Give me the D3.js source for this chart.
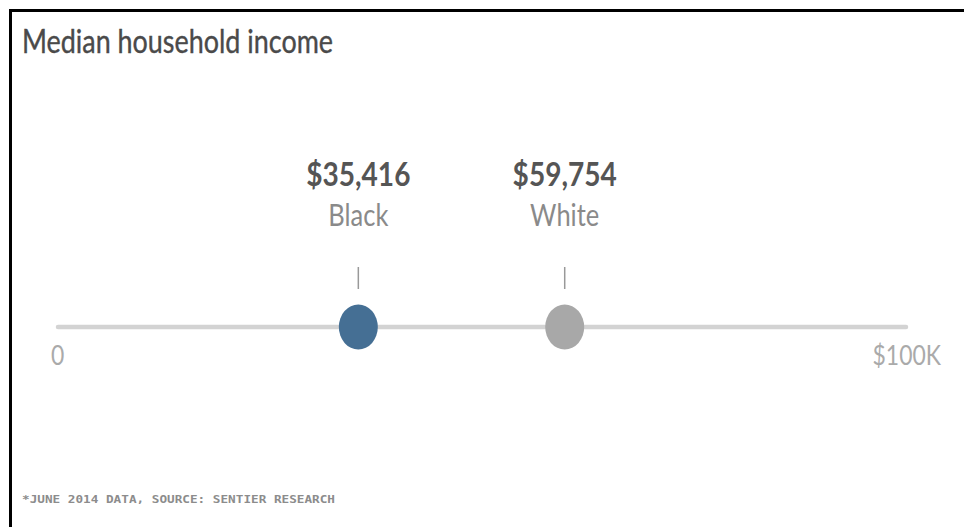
<!DOCTYPE html>
<html>
<head>
<meta charset="utf-8">
<script src="https://cdn.jsdelivr.net/npm/d3@7"></script>
<style>
  html, body { margin: 0; padding: 0; background: #fff; }
  svg { display: block; }
</style>
</head>
<body>
<svg id="chart" width="964" height="527"></svg>
<script>
// Median household income by race (June 2014)
const groups = ["Black", "White"];
const incomes = [35416, 59754];
const dotColors = ["#456f94", "#a8a8a8"];
const axisDomain = [0, 100000];
const axisLabels = ["0", "$100K"];

const width = 964, height = 527;
const svg = d3.select("#chart");

// Narrow the Lato glyphs a little so the type sits tight
function condense(sel, squeeze = 0.85) {
  sel.each(function () {
    const w = this.getComputedTextLength();
    d3.select(this).attr("textLength", w * squeeze).attr("lengthAdjust", "spacingAndGlyphs");
  });
  return sel;
}

// Frame
svg.append("line").attr("x1", 10.5).attr("x2", 10.5).attr("y1", 9).attr("y2", height)
  .attr("stroke", "#000").attr("stroke-width", 3);
svg.append("line").attr("x1", 9).attr("x2", width).attr("y1", 10.5).attr("y2", 10.5)
  .attr("stroke", "#000").attr("stroke-width", 3);

// Title
svg.append("text").attr("x", 22).attr("y", 53)
  .attr("font-family", "Lato").attr("font-size", 33).attr("fill", "#4a4a4a")
  .attr("stroke", "#4a4a4a").attr("stroke-width", 0.4)
  .attr("textLength", 311).attr("lengthAdjust", "spacingAndGlyphs")
  .text("Median household income");

const x = d3.scaleLinear().domain(axisDomain).range([58, 906]);
const axisY = 327;

// Axis track
svg.append("line").attr("x1", x(axisDomain[0])).attr("x2", x(axisDomain[1]))
  .attr("y1", axisY).attr("y2", axisY)
  .attr("stroke", "#d3d3d3").attr("stroke-width", 4.5).attr("stroke-linecap", "round");

// End labels
svg.append("text").attr("x", x(axisDomain[0]) - 7).attr("y", 365)
  .attr("font-family", "Lato").attr("font-size", 27).attr("fill", "#aaa")
  .text(axisLabels[0]).call(condense);
svg.append("text").attr("x", 941).attr("y", 365).attr("text-anchor", "end")
  .attr("font-family", "Lato").attr("font-size", 27).attr("fill", "#aaa")
  .text(axisLabels[1]).call(condense);

const fmt = d3.format("$,");
const marks = svg.selectAll("g.mark").data(groups.map((g, i) => ({ g, v: incomes[i], c: dotColors[i] })))
  .enter().append("g").attr("class", "mark");

marks.append("line")
  .attr("x1", d => x(d.v)).attr("x2", d => x(d.v))
  .attr("y1", 267).attr("y2", 289)
  .attr("stroke", "#999").attr("stroke-width", 1.5);

marks.append("ellipse")
  .attr("cx", d => x(d.v)).attr("cy", axisY)
  .attr("rx", 19.5).attr("ry", 22.5)
  .attr("fill", d => d.c);

marks.append("text")
  .attr("x", d => x(d.v)).attr("y", 186).attr("text-anchor", "middle")
  .attr("font-family", "Lato").attr("font-weight", "bold").attr("font-size", 33).attr("fill", "#555")
  .text(d => fmt(d.v)).call(condense);

marks.append("text")
  .attr("x", d => x(d.v)).attr("y", 226).attr("text-anchor", "middle")
  .attr("font-family", "Lato").attr("font-size", 30).attr("fill", "#8a8a8a")
  .text(d => d.g).call(condense);

// Footnote
svg.append("text").attr("x", 22).attr("y", 503)
  .attr("font-family", "DejaVu Sans Mono").attr("font-weight", "bold").attr("font-size", 11).attr("fill", "#8c8c8c")
  .attr("textLength", 313).attr("lengthAdjust", "spacingAndGlyphs")
  .text("*JUNE 2014 DATA, SOURCE: SENTIER RESEARCH");
</script>
</body>
</html>
